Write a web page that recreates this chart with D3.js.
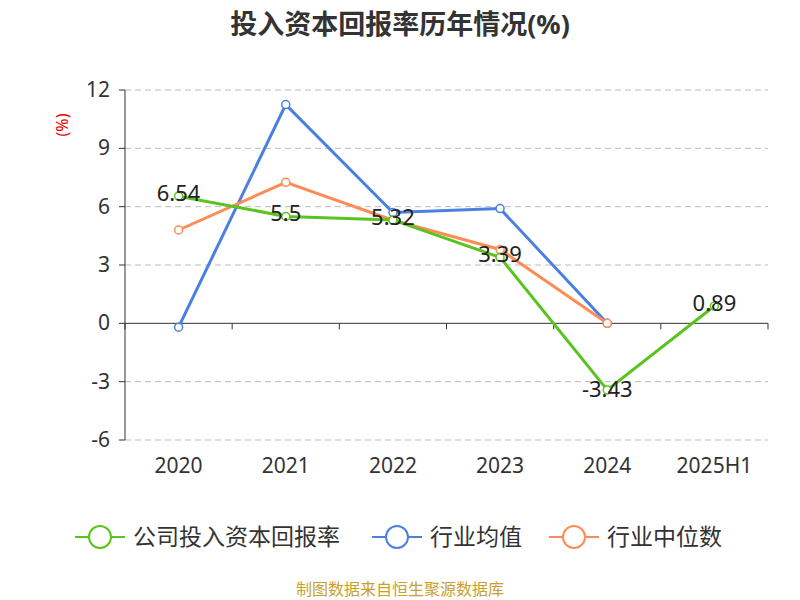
<!DOCTYPE html><html><head><meta charset="utf-8"><script src="https://cdn.jsdelivr.net/npm/d3@7"></script>
<style>body{margin:0;background:#fff}text{font-family:"Noto Sans","Noto Sans CJK SC",sans-serif}</style></head><body>
<svg id="c" width="800" height="600"></svg>
<script>
const categories=["2020","2021","2022","2023","2024","2025H1"];
const company=[6.54,5.5,5.32,3.39,-3.43,0.89];
const industryAvg=[-0.2,11.25,5.7,5.9,0.0,null];
const industryMed=[4.8,7.25,5.3,3.8,0.0,null];
const yTicks=[-6,-3,0,3,6,9,12];
const svg=d3.select("#c");
const x=d3.scaleBand().domain(categories).range([125,768]);
const y=d3.scaleLinear().domain([-6,12]).range([440,90]);
svg.append("text").attr("x",400).attr("y",34).attr("text-anchor","middle").attr("font-size",27).attr("font-weight","bold").attr("fill","#333").text("投入资本回报率历年情况(%)");
svg.append("text").attr("transform","translate(68,125) rotate(-90)").attr("text-anchor","middle").attr("font-size",16).attr("fill","#e00").text("(%)");
yTicks.forEach(t=>{
 if(t!==0) svg.append("line").attr("x1",125).attr("x2",768).attr("y1",y(t)).attr("y2",y(t)).attr("stroke","#bbb").attr("stroke-dasharray","6,4");
 svg.append("line").attr("x1",119).attr("x2",125).attr("y1",y(t)).attr("y2",y(t)).attr("stroke","#333");
 svg.append("text").attr("x",110).attr("y",y(t)+7).attr("text-anchor","end").attr("font-size",21).attr("fill","#333").text(t);
});
svg.append("line").attr("x1",125).attr("x2",125).attr("y1",90).attr("y2",440).attr("stroke","#333");
svg.append("line").attr("x1",125).attr("x2",768).attr("y1",y(0)).attr("y2",y(0)).attr("stroke","#333");
categories.forEach((c,i)=>{
 svg.append("line").attr("x1",x(c)).attr("x2",x(c)).attr("y1",y(0)).attr("y2",y(0)+6).attr("stroke","#333");
 svg.append("text").attr("x",x(c)+x.bandwidth()/2).attr("y",473).attr("text-anchor","middle").attr("font-size",21).attr("fill","#333").text(c);
});
svg.append("line").attr("x1",768).attr("x2",768).attr("y1",y(0)).attr("y2",y(0)+6).attr("stroke","#333");
const cx=c=>x(c)+x.bandwidth()/2;
const series=[[industryAvg,"#4a80e0"],[industryMed,"#ff8c55"],[company,"#5ac41e"]];
series.forEach(([d,col])=>{
 const pts=categories.map((c,i)=>[c,d[i]]).filter(p=>p[1]!=null);
 svg.append("path").attr("d",d3.line().x(p=>cx(p[0])).y(p=>y(p[1]))(pts)).attr("fill","none").attr("stroke",col).attr("stroke-width",3);
 pts.forEach(p=>svg.append("circle").attr("cx",cx(p[0])).attr("cy",y(p[1])).attr("r",4).attr("fill","#fff").attr("stroke",col).attr("stroke-width",1.5));
});
categories.forEach((c,i)=>{
 svg.append("text").attr("x",cx(c)).attr("y",y(company[i])+(company[i]<0?0:-2)+7).attr("text-anchor","middle").attr("font-size",22).attr("fill","#222").text(company[i]);
});
const leg=[["公司投入资本回报率","#5ac41e",75],["行业均值","#4a80e0",372],["行业中位数","#ff8c55",549]];
leg.forEach(([t,col,lx])=>{
 svg.append("line").attr("x1",lx).attr("x2",lx+50).attr("y1",537).attr("y2",537).attr("stroke",col).attr("stroke-width",2);
 svg.append("circle").attr("cx",lx+25).attr("cy",537).attr("r",11).attr("fill","#fff").attr("stroke",col).attr("stroke-width",2);
 svg.append("text").attr("x",lx+58).attr("y",545).attr("font-size",23).attr("fill","#333").text(t);
});
svg.append("text").attr("x",400).attr("y",595).attr("text-anchor","middle").attr("font-size",16).attr("fill","#c8a030").text("制图数据来自恒生聚源数据库");
</script></body></html>
